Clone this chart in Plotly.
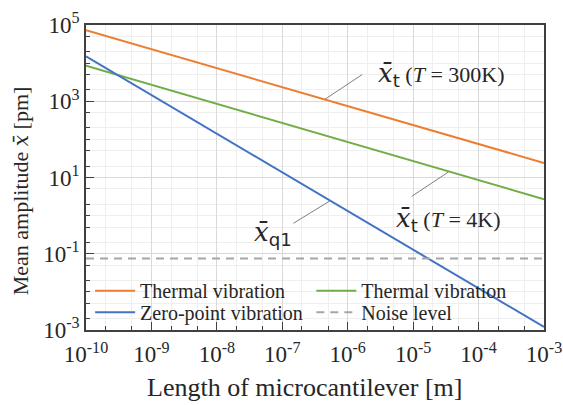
import plotly.graph_objects as go

# Cantilever length range [m]
length_m = [1e-10, 1e-3]

# Mean amplitude [pm] at the two ends of the length range
thermal_300K = [7.3e4, 24]
thermal_4K = [8.5e3, 2.7]
zero_point = [1.5e4, 1.2e-3]
noise_level = [0.075, 0.075]

# Leader lines joining curve labels to their curves
leader_300K_x = [4.47e-7, 1.66e-6]
leader_300K_y = [1.12e3, 5.0e3]
leader_4K_x = [9.5e-6, 3.47e-5]
leader_4K_y = [3.2, 14]
leader_q1_x = [1.48e-7, 5.37e-7]
leader_q1_y = [0.63, 2.45]

x_tick_vals = [1e-10, 1e-9, 1e-8, 1e-7, 1e-6, 1e-5, 1e-4, 1e-3]
x_tick_text = ["10<sup>-10</sup>", "10<sup>-9</sup>", "10<sup>-8</sup>", "10<sup>-7</sup>",
               "10<sup>-6</sup>", "10<sup>-5</sup>", "10<sup>-4</sup>", "10<sup>-3</sup>"]
y_tick_vals = [1e-3, 1e-1, 1e1, 1e3, 1e5]
y_tick_text = ["10<sup>-3</sup>", "10<sup>-1</sup>", "10<sup>1</sup>", "10<sup>3</sup>", "10<sup>5</sup>"]

ORANGE = "#ED7D31"
GREEN = "#70AD47"
BLUE = "#4472C4"
GRAY = "#A6A6A6"
TEXT = "#262626"
FONT = "Liberation Serif"

fig = go.Figure()

# one legend per entry so the 2x2 key sits exactly in the lower-left corner
series = [
    (thermal_300K, "Thermal vibration", dict(color=ORANGE, width=2), "legend"),
    (thermal_4K, "Thermal vibration", dict(color=GREEN, width=2), "legend2"),
    (zero_point, "Zero-point vibration", dict(color=BLUE, width=2), "legend3"),
    (noise_level, "Noise level", dict(color=GRAY, width=2, dash="8px,6px"), "legend4"),
]
for ys, name, line, lg in series:
    fig.add_trace(go.Scatter(x=length_m, y=ys, mode="lines", name=name, line=line, legend=lg))

for lx, ly in [(leader_300K_x, leader_300K_y), (leader_4K_x, leader_4K_y), (leader_q1_x, leader_q1_y)]:
    fig.add_trace(go.Scatter(x=lx, y=ly, mode="lines", showlegend=False, hoverinfo="skip",
                             line=dict(color="#808080", width=1)))


def xbar(sub):
    return ('<span style="font-family:DejaVu Serif;font-size:26px"><i>x̄</i>'
            '<sub><span style="font-family:DejaVu Sans">' + sub + '</span></sub></span>')


labels = [
    (-5.57, 3.70, xbar("t") + ' (<i>T</i> = 300K)', 22),
    (-5.30, -0.10, xbar("t") + ' (<i>T</i> = 4K)', 22),
    (-7.46, -0.46, xbar("q1"), 21),
]
for ax, ay, txt, fs in labels:
    fig.add_annotation(x=ax, y=ay, xref="x", yref="y", text=txt, showarrow=False,
                       xanchor="left", yanchor="middle",
                       font=dict(family=FONT, size=fs, color=TEXT))

# axis titles placed as paper-anchored text
fig.add_annotation(x=0.477, y=-0.187, xref="paper", yref="paper",
                   xanchor="center", yanchor="middle",
                   text="Length of microcantilever [m]", showarrow=False,
                   font=dict(family=FONT, size=26, color=TEXT))
fig.add_annotation(x=-0.144, y=0.455, xref="paper", yref="paper", textangle=-90,
                   xanchor="center", yanchor="middle",
                   text='Mean amplitude <span style="font-family:DejaVu Serif;font-size:20px"><i>x̄</i></span> [pm]',
                   showarrow=False, font=dict(family=FONT, size=22, color=TEXT))

axis_common = dict(
    type="log", automargin=False,
    showline=True, linecolor="#404040", linewidth=1.5, mirror=True,
    ticks="inside", ticklen=8, tickwidth=1, tickcolor="#404040",
    showgrid=True, gridcolor="#D9D9D9", gridwidth=1,
    minor=dict(ticks="inside", ticklen=4, tickcolor="#404040", showgrid=True,
               gridcolor="#EFEFEF", gridwidth=1),
    tickfont=dict(family=FONT, size=23, color=TEXT),
    zeroline=False,
)

fig.update_xaxes(**axis_common, range=[-10, -3], tickvals=x_tick_vals, ticktext=x_tick_text,
                 ticklabelstandoff=3)
fig.update_yaxes(**axis_common, range=[-3, 5], tickvals=y_tick_vals, ticktext=y_tick_text)

legend_common = dict(bgcolor="rgba(0,0,0,0)", itemwidth=40, xanchor="left", yanchor="middle",
                     font=dict(family=FONT, size=20, color=TEXT))
fig.update_layout(
    width=563, height=405,
    margin=dict(l=86, r=19, t=25, b=75),
    font=dict(family=FONT, color=TEXT),
    plot_bgcolor="white", paper_bgcolor="white",
    showlegend=True,
    legend=dict(**legend_common, x=0.009, y=0.129),
    legend2=dict(**legend_common, x=0.492, y=0.129),
    legend3=dict(**legend_common, x=0.009, y=0.058),
    legend4=dict(**legend_common, x=0.492, y=0.058),
)

fig.write_html("out.html")
